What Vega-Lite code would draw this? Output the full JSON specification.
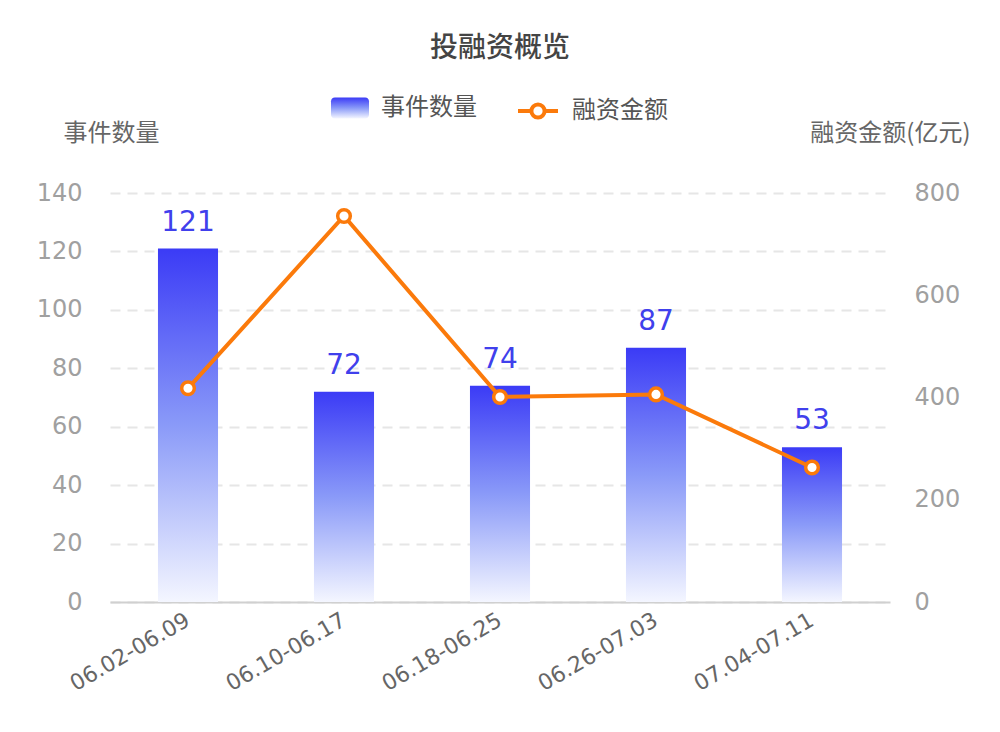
{
  "$schema": "https://vega.github.io/schema/vega-lite/v6.json",
  "width": 780,
  "height": 409,
  "autosize": {"type": "none"},
  "padding": {"left": 110, "top": 193, "right": 110, "bottom": 130},
  "background": "white",
  "config": {
    "font": "DejaVu Sans, Noto Sans CJK SC",
    "view": {"stroke": null},
    "axis": {"ticks": false, "domain": false}
  },
  "title": {
    "text": "投融资概览",
    "fontSize": 28,
    "fontWeight": 500,
    "color": "#444444",
    "font": "Noto Sans CJK SC",
    "anchor": "middle",
    "offset": 26
  },
  "data": {
    "values": [
      {"period": "06.02-06.09", "events": 121, "amount": 418},
      {"period": "06.10-06.17", "events": 72, "amount": 755},
      {"period": "06.18-06.25", "events": 74, "amount": 401},
      {"period": "06.26-07.03", "events": 87, "amount": 406},
      {"period": "07.04-07.11", "events": 53, "amount": 263}
    ]
  },
  "encoding": {
    "x": {
      "field": "period",
      "type": "nominal",
      "sort": null,
      "scale": {"paddingInner": 0.615, "paddingOuter": 0.3075},
      "axis": {
        "title": null,
        "labelAngle": -30,
        "labelAlign": "right",
        "labelBaseline": "middle",
        "labelFontSize": 22,
        "labelColor": "#666666",
        "labelPadding": 16,
        "domain": true,
        "domainColor": "#d0d0d0",
        "domainWidth": 2,
        "grid": false
      }
    }
  },
  "layer": [
    {
      "encoding": {
        "y": {
          "field": "events",
          "type": "quantitative",
          "scale": {"domain": [0, 140]},
          "axis": {
            "values": [0, 20, 40, 60, 80, 100, 120, 140],
            "title": "事件数量",
            "titleAngle": 0,
            "titleX": -47,
            "titleY": -60,
            "titleAlign": "left",
            "titleBaseline": "middle",
            "titleFontSize": 24,
            "titleFontWeight": "normal",
            "titleColor": "#666666",
            "titleFont": "Noto Sans CJK SC",
            "labelFontSize": 24,
            "labelColor": "#a0a0a0",
            "labelPadding": 28,
            "grid": true,
            "gridColor": "#e6e6e6",
            "gridDash": [10, 7],
            "gridWidth": 2
          }
        }
      },
      "layer": [
        {
          "mark": {
            "type": "bar",
            "color": {
              "gradient": "linear",
              "x1": 0, "y1": 1, "x2": 0, "y2": 0,
              "stops": [
                {"offset": 0, "color": "#f4f6ff"},
                {"offset": 0.5, "color": "#8a9af8"},
                {"offset": 1, "color": "#3b3bf6"}
              ]
            }
          },
          "encoding": {
            "opacity": {
              "datum": "事件数量",
              "type": "nominal",
              "scale": {"range": [1]},
              "legend": {
                "title": null,
                "orient": "none",
                "legendX": 221,
                "legendY": -104,
                "direction": "horizontal",
                "labelFontSize": 24,
                "labelColor": "#555555",
                "labelFont": "Noto Sans CJK SC",
                "labelOffset": 12,
                "symbolSize": 1444,
                "symbolType": "M-0.8,-0.55H0.8A0.2,0.2 0 0 1 1,-0.35V0.35A0.2,0.2 0 0 1 0.8,0.55H-0.8A0.2,0.2 0 0 1 -1,0.35V-0.35A0.2,0.2 0 0 1 -0.8,-0.55Z",
                "symbolStrokeWidth": 0,
                "encode": {
                  "symbols": {
                    "update": {
                      "fill": {"value": {
                        "gradient": "linear",
                        "x1": 0, "y1": 0, "x2": 0, "y2": 1,
                        "stops": [
                          {"offset": 0, "color": "#3b3bf6"},
                          {"offset": 1, "color": "#eef1ff"}
                        ]
                      }},
                      "opacity": {"value": 1},
                      "strokeWidth": {"value": 0}
                    }
                  }
                }
              }
            }
          }
        },
        {
          "mark": {
            "type": "text",
            "baseline": "bottom",
            "dy": -12,
            "fontSize": 28,
            "color": "#4040ec"
          },
          "encoding": {
            "text": {"field": "events", "type": "quantitative"}
          }
        }
      ]
    },
    {
      "encoding": {
        "y": {
          "field": "amount",
          "type": "quantitative",
          "scale": {"domain": [0, 800]},
          "axis": {
            "orient": "right",
            "values": [0, 200, 400, 600, 800],
            "title": "融资金额(亿元)",
            "titleAngle": 0,
            "titleX": 80,
            "titleY": -60,
            "titleAlign": "right",
            "titleBaseline": "middle",
            "titleFontSize": 24,
            "titleFontWeight": "normal",
            "titleColor": "#666666",
            "titleFont": "Noto Sans CJK SC",
            "labelFontSize": 24,
            "labelColor": "#a0a0a0",
            "labelPadding": 24,
            "grid": false
          }
        },
        "stroke": {
          "datum": "融资金额",
          "type": "nominal",
          "scale": {"range": ["#fb7a0b"]},
          "legend": {
            "title": null,
            "orient": "none",
            "legendX": 406,
            "legendY": -104,
            "direction": "horizontal",
            "labelFontSize": 24,
            "labelColor": "#555555",
            "labelFont": "Noto Sans CJK SC",
            "labelOffset": 12,
            "symbolSize": 1600,
            "symbolType": "M-1,0L-0.33,0M0.33,0L1,0M-0.33,0A0.33,0.33 0 1,0 0.33,0A0.33,0.33 0 1,0 -0.33,0Z",
            "symbolStrokeWidth": 4,
            "symbolFillColor": "white",
            "encode": {
              "symbols": {"update": {"fill": {"value": "white"}, "strokeWidth": {"value": 4}, "opacity": {"value": 1}}}
            }
          }
        }
      },
      "layer": [
        {
          "mark": {"type": "line", "strokeWidth": 4}
        },
        {
          "mark": {"type": "point", "filled": true, "fill": "white", "size": 160, "strokeWidth": 3.5, "opacity": 1}
        }
      ]
    }
  ],
  "resolve": {"scale": {"y": "independent"}}
}
